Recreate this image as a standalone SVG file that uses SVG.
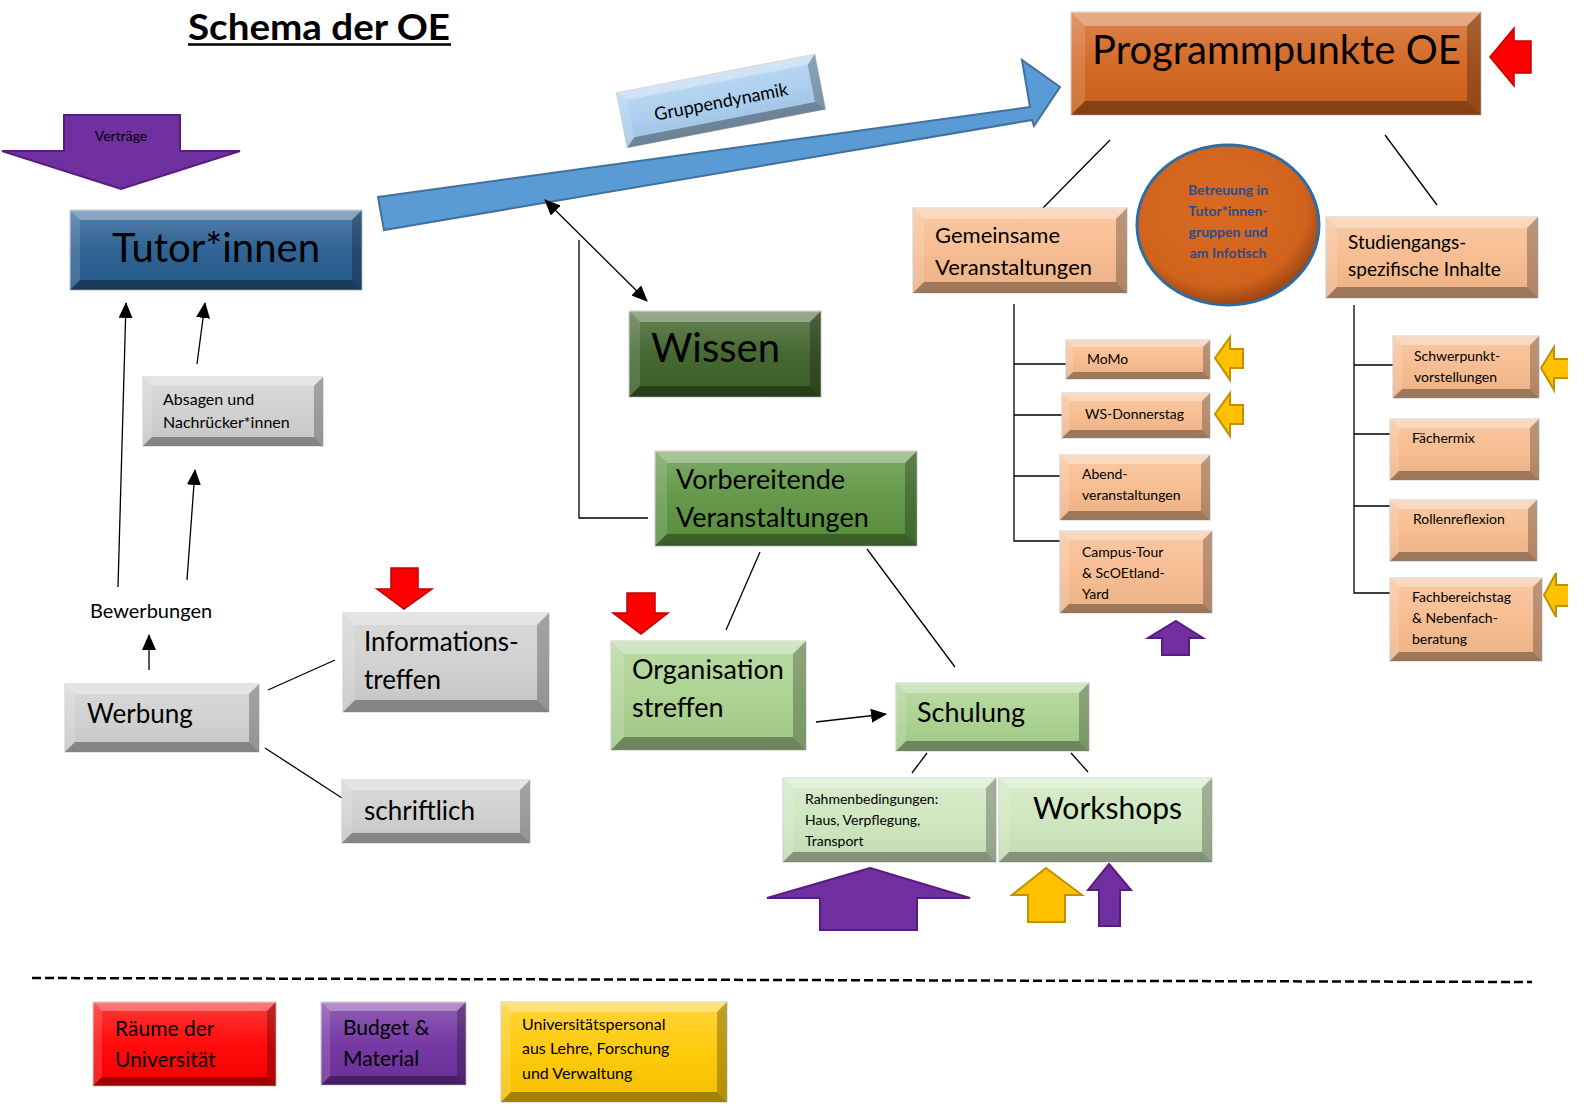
<svg xmlns="http://www.w3.org/2000/svg" width="1584" height="1110" viewBox="0 0 1584 1110">
<defs>
<style>
text{font-family:Lato,"Open Sans","Liberation Sans",sans-serif;fill:#000}
.bt{fill:#fff;fill-opacity:.32}
.bl{fill:#fff;fill-opacity:.14}
.br{fill:#000;fill-opacity:.25}
.bb{fill:#000;fill-opacity:.33}
.box{stroke:#c9c9c9;stroke-width:1}
.ln{stroke:#000;stroke-width:1.3;fill:none}
.blue{fill:#255C8F}.gray{fill:#CFCFCF}.dg{fill:#3D6128}.mg{fill:#5C933F}.lg{fill:#A9D18E}.xg{fill:#CDE6BD}
.org{fill:#D2631C}.peach{fill:#F7BA8C}.red{fill:#FF0000}.pur{fill:#7030A0}.yel{fill:#FFC800}.lb{fill:#A8CDEE}
.ar-red{fill:#FF0000;stroke:#C00000;stroke-width:1.5}
.ar-pur{fill:#7030A0;stroke:#5A1A80;stroke-width:2}
.ar-yel{fill:#FFC000;stroke:#BF9000;stroke-width:2}
.ct{font-size:14px;font-weight:700;fill:#2B4C8C}
</style>
<linearGradient id="shine" x1="0" y1="0" x2="0" y2="1">
<stop offset="0" stop-color="#fff" stop-opacity=".22"/>
<stop offset=".5" stop-color="#fff" stop-opacity=".05"/>
<stop offset="1" stop-color="#000" stop-opacity=".05"/>
</linearGradient>
<radialGradient id="circ" cx=".45" cy=".4" r=".6">
<stop offset="0" stop-color="#DA6A22"/>
<stop offset=".8" stop-color="#D2631C"/>
<stop offset="1" stop-color="#9E4512"/>
</radialGradient>
<marker id="ah" markerWidth="16" markerHeight="14" viewBox="0 0 16 14" refX="15" refY="7" orient="auto-start-reverse" markerUnits="userSpaceOnUse">
<path d="M0,0 L16,7 L0,14 Z" fill="#000"/>
</marker>
</defs>
<rect width="1584" height="1110" fill="#fff"/>

<g id="title">
<text x="188" y="40" font-size="36" font-weight="bold" textLength="262" lengthAdjust="spacingAndGlyphs">Schema der OE</text>
<line x1="188" y1="44.5" x2="451" y2="44.5" stroke="#000" stroke-width="2.5"/>
</g>

<g id="blue-arrow">
<polygon points="378,197 1030,107 1022,60 1060,87 1034,126 1032,120 384,230" fill="#5B9BD5" stroke="#41719C" stroke-width="2"/>
</g>

<g id="connectors">
<line class="ln" x1="545" y1="200" x2="647" y2="301" marker-start="url(#ah)" marker-end="url(#ah)"/>
<polyline class="ln" points="648,518 579,518 579,240"/>
<line class="ln" x1="118" y1="587" x2="126" y2="303" marker-end="url(#ah)"/>
<line class="ln" x1="197" y1="364" x2="205" y2="303" marker-end="url(#ah)"/>
<line class="ln" x1="187" y1="580" x2="195" y2="470" marker-end="url(#ah)"/>
<line class="ln" x1="149" y1="670" x2="149" y2="635" marker-end="url(#ah)"/>
<line class="ln" x1="268" y1="690" x2="335" y2="660"/>
<line class="ln" x1="265" y1="748" x2="342" y2="798"/>
<line class="ln" x1="760" y1="552" x2="726" y2="630"/>
<line class="ln" x1="867" y1="549" x2="955" y2="667"/>
<line class="ln" x1="816" y1="722" x2="886" y2="714" marker-end="url(#ah)"/>
<line class="ln" x1="927" y1="753" x2="912" y2="773"/>
<line class="ln" x1="1071" y1="753" x2="1088" y2="772"/>
<line class="ln" x1="1110" y1="140" x2="1043" y2="208"/>
<line class="ln" x1="1385" y1="135" x2="1437" y2="205"/>
<polyline class="ln" points="1014,304 1014,541 1062,541"/>
<line class="ln" x1="1014" y1="364" x2="1066" y2="364"/>
<line class="ln" x1="1014" y1="415" x2="1062" y2="415"/>
<line class="ln" x1="1014" y1="476" x2="1060" y2="476"/>
<polyline class="ln" points="1354,305 1354,593 1390,593"/>
<line class="ln" x1="1354" y1="365" x2="1393" y2="365"/>
<line class="ln" x1="1354" y1="434" x2="1390" y2="434"/>
<line class="ln" x1="1354" y1="506" x2="1390" y2="506"/>
<line x1="32" y1="978" x2="1532" y2="982" stroke="#000" stroke-width="2.5" stroke-dasharray="9 4"/>
</g>

<g id="gruppendynamik" transform="translate(721,101) rotate(-11)">
<rect class="box lb" x="-101" y="-28" width="202" height="56"/>
<rect x="-101" y="-28" width="202" height="56" fill="url(#shine)"/>
<polygon class="bt" points="-101,-28 101,-28 92,-19 -92,-19"/>
<polygon class="bl" points="-101,-28 -92,-19 -92,19 -101,28"/>
<polygon class="br" points="101,-28 101,28 92,19 92,-19"/>
<polygon class="bb" points="-101,28 -92,19 92,19 101,28"/>
<text x="0" y="7" font-size="18" text-anchor="middle">Gruppendynamik</text>
</g>

<g id="vertraege">
<polygon class="ar-pur" points="64,115 180,115 180,151 240,151 121,189 2,151 64,151" stroke-width="1.5"/>
<text x="121" y="141" font-size="14" text-anchor="middle">Verträge</text>
</g>

<g id="tutorinnen">
<rect class="box blue" x="70" y="210" width="292" height="80"/>
<rect x="70" y="210" width="292" height="80" fill="url(#shine)"/>
<polygon class="bt" points="70,210 362,210 352,220 80,220"/>
<polygon class="bl" points="70,210 80,220 80,280 70,290"/>
<polygon class="br" points="362,210 362,290 352,280 352,220"/>
<polygon class="bb" points="70,290 80,280 352,280 362,290"/>
<text x="216" y="262" font-size="40" text-anchor="middle">Tutor*innen</text>
</g>

<g id="absagen">
<rect class="box gray" x="143" y="377" width="180" height="69"/>
<rect x="143" y="377" width="180" height="69" fill="url(#shine)"/>
<polygon class="bt" points="143,377 323,377 314,386 152,386"/>
<polygon class="bl" points="143,377 152,386 152,437 143,446"/>
<polygon class="br" points="323,377 323,446 314,437 314,386"/>
<polygon class="bb" points="143,446 152,437 314,437 323,446"/>
<text x="163" y="405" font-size="16">Absagen und</text>
<text x="163" y="428" font-size="16">Nachrücker*innen</text>
</g>

<g id="bewerbungen">
<text x="90" y="618" font-size="20">Bewerbungen</text>
</g>

<g id="werbung">
<rect class="box gray" x="65" y="684" width="194" height="68"/>
<rect x="65" y="684" width="194" height="68" fill="url(#shine)"/>
<polygon class="bt" points="65,684 259,684 249,694 75,694"/>
<polygon class="bl" points="65,684 75,694 75,742 65,752"/>
<polygon class="br" points="259,684 259,752 249,742 249,694"/>
<polygon class="bb" points="65,752 75,742 249,742 259,752"/>
<text x="87" y="723" font-size="26">Werbung</text>
</g>

<g id="informationstreffen">
<polygon class="ar-red" points="391,568 418,568 418,589 432,589 404,609 377,589 391,589"/>
<rect class="box gray" x="343" y="613" width="206" height="99"/>
<rect x="343" y="613" width="206" height="99" fill="url(#shine)"/>
<polygon class="bt" points="343,613 549,613 537,625 355,625"/>
<polygon class="bl" points="343,613 355,625 355,700 343,712"/>
<polygon class="br" points="549,613 549,712 537,700 537,625"/>
<polygon class="bb" points="343,712 355,700 537,700 549,712"/>
<text x="364" y="651" font-size="26">Informations-</text>
<text x="364" y="689" font-size="26">treffen</text>
</g>

<g id="schriftlich">
<rect class="box gray" x="342" y="780" width="188" height="63"/>
<rect x="342" y="780" width="188" height="63" fill="url(#shine)"/>
<polygon class="bt" points="342,780 530,780 520,790 352,790"/>
<polygon class="bl" points="342,780 352,790 352,833 342,843"/>
<polygon class="br" points="530,780 530,843 520,833 520,790"/>
<polygon class="bb" points="342,843 352,833 520,833 530,843"/>
<text x="364" y="820" font-size="26">schriftlich</text>
</g>

<g id="wissen">
<rect class="box dg" x="629" y="311" width="192" height="86"/>
<rect x="629" y="311" width="192" height="86" fill="url(#shine)"/>
<polygon class="bt" points="629,311 821,311 810,322 640,322"/>
<polygon class="bl" points="629,311 640,322 640,386 629,397"/>
<polygon class="br" points="821,311 821,397 810,386 810,322"/>
<polygon class="bb" points="629,397 640,386 810,386 821,397"/>
<text x="651" y="362" font-size="40">Wissen</text>
</g>

<g id="vorbereitende">
<rect class="box mg" x="655" y="451" width="262" height="95"/>
<rect x="655" y="451" width="262" height="95" fill="url(#shine)"/>
<polygon class="bt" points="655,451 917,451 905,463 667,463"/>
<polygon class="bl" points="655,451 667,463 667,534 655,546"/>
<polygon class="br" points="917,451 917,546 905,534 905,463"/>
<polygon class="bb" points="655,546 667,534 905,534 917,546"/>
<text x="676" y="489" font-size="27">Vorbereitende</text>
<text x="676" y="527" font-size="27">Veranstaltungen</text>
</g>

<g id="organisationstreffen">
<polygon class="ar-red" points="627,593 655,593 655,613 668,613 641,634 613,613 627,613"/>
<rect class="box lg" x="611" y="641" width="195" height="109"/>
<rect x="611" y="641" width="195" height="109" fill="url(#shine)"/>
<polygon class="bt" points="611,641 806,641 793,654 624,654"/>
<polygon class="bl" points="611,641 624,654 624,737 611,750"/>
<polygon class="br" points="806,641 806,750 793,737 793,654"/>
<polygon class="bb" points="611,750 624,737 793,737 806,750"/>
<text x="632" y="679" font-size="27">Organisation</text>
<text x="632" y="717" font-size="27">streffen</text>
</g>

<g id="schulung">
<rect class="box lg" x="896" y="683" width="193" height="68"/>
<rect x="896" y="683" width="193" height="68" fill="url(#shine)"/>
<polygon class="bt" points="896,683 1089,683 1079,693 906,693"/>
<polygon class="bl" points="896,683 906,693 906,741 896,751"/>
<polygon class="br" points="1089,683 1089,751 1079,741 1079,693"/>
<polygon class="bb" points="896,751 906,741 1079,741 1089,751"/>
<text x="917" y="722" font-size="27">Schulung</text>
</g>

<g id="rahmenbedingungen">
<rect class="box xg" x="783" y="778" width="213" height="84"/>
<rect x="783" y="778" width="213" height="84" fill="url(#shine)"/>
<polygon class="bt" points="783,778 996,778 986,788 793,788"/>
<polygon class="bl" points="783,778 793,788 793,852 783,862"/>
<polygon class="br" points="996,778 996,862 986,852 986,788"/>
<polygon class="bb" points="783,862 793,852 986,852 996,862"/>
<text x="805" y="804" font-size="14">Rahmenbedingungen:</text>
<text x="805" y="825" font-size="14">Haus, Verpflegung,</text>
<text x="805" y="846" font-size="14">Transport</text>
<polygon class="ar-pur" points="870,868 970,898 917,898 917,930 820,930 820,898 767,898"/>
</g>

<g id="workshops">
<rect class="box xg" x="999" y="778" width="213" height="84"/>
<rect x="999" y="778" width="213" height="84" fill="url(#shine)"/>
<polygon class="bt" points="999,778 1212,778 1202,788 1009,788"/>
<polygon class="bl" points="999,778 1009,788 1009,852 999,862"/>
<polygon class="br" points="1212,778 1212,862 1202,852 1202,788"/>
<polygon class="bb" points="999,862 1009,852 1202,852 1212,862"/>
<text x="1033" y="819" font-size="30">Workshops</text>
<polygon class="ar-yel" points="1046,868 1082,895 1065,895 1065,922 1028,922 1028,895 1012,895"/>
<polygon class="ar-pur" points="1109,864 1131,890 1120,890 1120,926 1099,926 1099,890 1088,890"/>
</g>

<g id="programmpunkte">
<rect class="box org" x="1071" y="12" width="410" height="103"/>
<rect x="1071" y="12" width="410" height="103" fill="url(#shine)"/>
<polygon class="bt" points="1071,12 1481,12 1467,26 1085,26"/>
<polygon class="bl" points="1071,12 1085,26 1085,101 1071,115"/>
<polygon class="br" points="1481,12 1481,115 1467,101 1467,26"/>
<polygon class="bb" points="1071,115 1085,101 1467,101 1481,115"/>
<text x="1092" y="64" font-size="40">Programmpunkte OE</text>
<polygon class="ar-red" points="1490,57 1514,28 1514,41 1531,41 1531,73 1514,73 1514,86"/>
</g>

<g id="gemeinsame">
<rect class="box peach" x="913" y="208" width="214" height="85"/>
<rect x="913" y="208" width="214" height="85" fill="url(#shine)"/>
<polygon class="bt" points="913,208 1127,208 1116,219 924,219"/>
<polygon class="bl" points="913,208 924,219 924,282 913,293"/>
<polygon class="br" points="1127,208 1127,293 1116,282 1116,219"/>
<polygon class="bb" points="913,293 924,282 1116,282 1127,293"/>
<text x="935" y="243" font-size="22">Gemeinsame</text>
<text x="935" y="275" font-size="22">Veranstaltungen</text>
</g>

<g id="betreuung">
<ellipse cx="1228" cy="225" rx="91" ry="80" fill="url(#circ)" stroke="#2E6DA4" stroke-width="3"/>
<text class="ct" x="1228" y="195" text-anchor="middle">Betreuung in</text>
<text class="ct" x="1228" y="216" text-anchor="middle">Tutor*innen-</text>
<text class="ct" x="1228" y="237" text-anchor="middle">gruppen und</text>
<text class="ct" x="1228" y="258" text-anchor="middle">am Infotisch</text>
</g>

<g id="studiengangs">
<rect class="box peach" x="1326" y="217" width="212" height="81"/>
<rect x="1326" y="217" width="212" height="81" fill="url(#shine)"/>
<polygon class="bt" points="1326,217 1538,217 1527,228 1337,228"/>
<polygon class="bl" points="1326,217 1337,228 1337,287 1326,298"/>
<polygon class="br" points="1538,217 1538,298 1527,287 1527,228"/>
<polygon class="bb" points="1326,298 1337,287 1527,287 1538,298"/>
<text x="1348" y="249" font-size="19">Studiengangs-</text>
<text x="1348" y="276" font-size="19">spezifische Inhalte</text>
</g>

<g id="momo">
<rect class="box peach" x="1066" y="340" width="144" height="39"/>
<rect x="1066" y="340" width="144" height="39" fill="url(#shine)"/>
<polygon class="bt" points="1066,340 1210,340 1203,347 1073,347"/>
<polygon class="bl" points="1066,340 1073,347 1073,372 1066,379"/>
<polygon class="br" points="1210,340 1210,379 1203,372 1203,347"/>
<polygon class="bb" points="1066,379 1073,372 1203,372 1210,379"/>
<text x="1087" y="364" font-size="14">MoMo</text>
<polygon class="ar-yel" points="1215,358 1230,337 1230,349 1243,349 1243,368 1230,368 1230,380"/>
</g>

<g id="ws-donnerstag">
<rect class="box peach" x="1062" y="393" width="148" height="45"/>
<rect x="1062" y="393" width="148" height="45" fill="url(#shine)"/>
<polygon class="bt" points="1062,393 1210,393 1202,401 1070,401"/>
<polygon class="bl" points="1062,393 1070,401 1070,430 1062,438"/>
<polygon class="br" points="1210,393 1210,438 1202,430 1202,401"/>
<polygon class="bb" points="1062,438 1070,430 1202,430 1210,438"/>
<text x="1085" y="419" font-size="14">WS-Donnerstag</text>
<polygon class="ar-yel" points="1215,414 1230,393 1230,405 1243,405 1243,424 1230,424 1230,436"/>
</g>

<g id="abendveranstaltungen">
<rect class="box peach" x="1060" y="455" width="150" height="65"/>
<rect x="1060" y="455" width="150" height="65" fill="url(#shine)"/>
<polygon class="bt" points="1060,455 1210,455 1201,464 1069,464"/>
<polygon class="bl" points="1060,455 1069,464 1069,511 1060,520"/>
<polygon class="br" points="1210,455 1210,520 1201,511 1201,464"/>
<polygon class="bb" points="1060,520 1069,511 1201,511 1210,520"/>
<text x="1082" y="479" font-size="14">Abend-</text>
<text x="1082" y="500" font-size="14">veranstaltungen</text>
</g>

<g id="campus-tour">
<rect class="box peach" x="1060" y="531" width="152" height="82"/>
<rect x="1060" y="531" width="152" height="82" fill="url(#shine)"/>
<polygon class="bt" points="1060,531 1212,531 1203,540 1069,540"/>
<polygon class="bl" points="1060,531 1069,540 1069,604 1060,613"/>
<polygon class="br" points="1212,531 1212,613 1203,604 1203,540"/>
<polygon class="bb" points="1060,613 1069,604 1203,604 1212,613"/>
<text x="1082" y="557" font-size="14">Campus-Tour</text>
<text x="1082" y="578" font-size="14">&amp; ScOEtland-</text>
<text x="1082" y="599" font-size="14">Yard</text>
<polygon class="ar-pur" points="1176,621 1203,638 1189,638 1189,655 1162,655 1162,638 1148,638"/>
</g>

<g id="schwerpunkt">
<rect class="box peach" x="1393" y="336" width="146" height="62"/>
<rect x="1393" y="336" width="146" height="62" fill="url(#shine)"/>
<polygon class="bt" points="1393,336 1539,336 1530,345 1402,345"/>
<polygon class="bl" points="1393,336 1402,345 1402,389 1393,398"/>
<polygon class="br" points="1539,336 1539,398 1530,389 1530,345"/>
<polygon class="bb" points="1393,398 1402,389 1530,389 1539,398"/>
<text x="1414" y="361" font-size="14">Schwerpunkt-</text>
<text x="1414" y="382" font-size="14">vorstellungen</text>
<polygon class="ar-yel" points="1541,368 1554,347 1554,359 1570,359 1570,378 1554,378 1554,390"/>
</g>

<g id="faechermix">
<rect class="box peach" x="1390" y="419" width="149" height="61"/>
<rect x="1390" y="419" width="149" height="61" fill="url(#shine)"/>
<polygon class="bt" points="1390,419 1539,419 1530,428 1399,428"/>
<polygon class="bl" points="1390,419 1399,428 1399,471 1390,480"/>
<polygon class="br" points="1539,419 1539,480 1530,471 1530,428"/>
<polygon class="bb" points="1390,480 1399,471 1530,471 1539,480"/>
<text x="1412" y="443" font-size="14">Fächermix</text>
</g>

<g id="rollenreflexion">
<rect class="box peach" x="1390" y="500" width="147" height="61"/>
<rect x="1390" y="500" width="147" height="61" fill="url(#shine)"/>
<polygon class="bt" points="1390,500 1537,500 1528,509 1399,509"/>
<polygon class="bl" points="1390,500 1399,509 1399,552 1390,561"/>
<polygon class="br" points="1537,500 1537,561 1528,552 1528,509"/>
<polygon class="bb" points="1390,561 1399,552 1528,552 1537,561"/>
<text x="1413" y="524" font-size="14">Rollenreflexion</text>
</g>

<g id="fachbereichstag">
<rect class="box peach" x="1390" y="578" width="152" height="83"/>
<rect x="1390" y="578" width="152" height="83" fill="url(#shine)"/>
<polygon class="bt" points="1390,578 1542,578 1533,587 1399,587"/>
<polygon class="bl" points="1390,578 1399,587 1399,652 1390,661"/>
<polygon class="br" points="1542,578 1542,661 1533,652 1533,587"/>
<polygon class="bb" points="1390,661 1399,652 1533,652 1542,661"/>
<text x="1412" y="602" font-size="14">Fachbereichstag</text>
<text x="1412" y="623" font-size="14">&amp; Nebenfach-</text>
<text x="1412" y="644" font-size="14">beratung</text>
<polygon class="ar-yel" points="1544,595 1556,573 1556,585 1570,585 1570,606 1556,606 1556,617"/>
</g>
<rect x="1568" y="330" width="16" height="300" fill="#fff"/>

<g id="legend-raeume">
<rect class="box red" x="93" y="1002" width="183" height="84"/>
<rect x="93" y="1002" width="183" height="84" fill="url(#shine)"/>
<polygon class="bt" points="93,1002 276,1002 267,1011 102,1011"/>
<polygon class="bl" points="93,1002 102,1011 102,1077 93,1086"/>
<polygon class="br" points="276,1002 276,1086 267,1077 267,1011"/>
<polygon class="bb" points="93,1086 102,1077 267,1077 276,1086"/>
<text x="115" y="1036" font-size="21">Räume der</text>
<text x="115" y="1067" font-size="21">Universität</text>
</g>

<g id="legend-budget">
<rect class="box pur" x="321" y="1002" width="145" height="83"/>
<rect x="321" y="1002" width="145" height="83" fill="url(#shine)"/>
<polygon class="bt" points="321,1002 466,1002 457,1011 330,1011"/>
<polygon class="bl" points="321,1002 330,1011 330,1076 321,1085"/>
<polygon class="br" points="466,1002 466,1085 457,1076 457,1011"/>
<polygon class="bb" points="321,1085 330,1076 457,1076 466,1085"/>
<text x="343" y="1035" font-size="21">Budget &amp;</text>
<text x="343" y="1066" font-size="21">Material</text>
</g>

<g id="legend-personal">
<rect class="box yel" x="501" y="1002" width="226" height="100"/>
<rect x="501" y="1002" width="226" height="100" fill="url(#shine)"/>
<polygon class="bt" points="501,1002 727,1002 717,1012 511,1012"/>
<polygon class="bl" points="501,1002 511,1012 511,1092 501,1102"/>
<polygon class="br" points="727,1002 727,1102 717,1092 717,1012"/>
<polygon class="bb" points="501,1102 511,1092 717,1092 727,1102"/>
<text x="522" y="1030" font-size="16">Universitätspersonal</text>
<text x="522" y="1054" font-size="16">aus Lehre, Forschung</text>
<text x="522" y="1079" font-size="16">und Verwaltung</text>
</g>
</svg>
